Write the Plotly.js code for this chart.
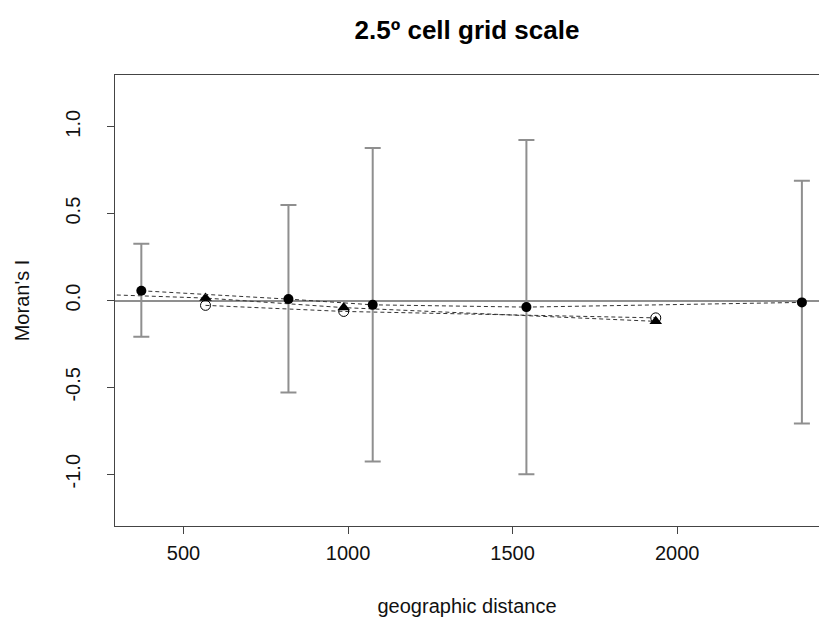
<!DOCTYPE html>
<html>
<head>
<meta charset="utf-8">
<script src="https://cdn.plot.ly/plotly-3.0.1.min.js"></script>
<style>html,body{margin:0;padding:0;background:#fff;}</style>
</head>
<body>
<div id="chart" style="width:819px;height:631px;"></div>
<script>
// Filled circles (with confidence bars)
const distFilled = [372, 819, 1075, 1542, 2379];
const moranFilled = [0.056, 0.008, -0.025, -0.038, -0.011];
const upperFilled = [0.326, 0.55, 0.878, 0.924, 0.689];
const lowerFilled = [-0.208, -0.53, -0.927, -1.0, -0.708];

// Triangles (first class lies left of the visible range)
const distTri = [170, 567, 987, 1935];
const moranTri = [0.04, 0.014, -0.041, -0.12];

// Open circles
const distOpen = [567, 987, 1935];
const moranOpen = [-0.028, -0.063, -0.10];

const xTicks = [500, 1000, 1500, 2000];
const yTicks = [-1.0, -0.5, 0.0, 0.5, 1.0];
const yTickText = ["-1.0", "-0.5", "0.0", "0.5", "1.0"];

const errPlus = upperFilled.map((u, i) => u - moranFilled[i]);
const errMinus = lowerFilled.map((l, i) => moranFilled[i] - l);

const dashStyle = {color: '#333', width: 1, dash: '4px,3px'};

const traces = [
  {
    x: distOpen, y: moranOpen, type: 'scatter', mode: 'lines+markers',
    line: dashStyle,
    marker: {symbol: 'circle-open', size: 10, color: '#000', line: {width: 1, color: '#000'}},
    hoverinfo: 'x+y'
  },
  {
    x: distTri, y: moranTri, type: 'scatter', mode: 'lines+markers',
    line: dashStyle,
    marker: {symbol: 'triangle-up', size: 11, color: '#000'},
    hoverinfo: 'x+y'
  },
  {
    x: distFilled, y: moranFilled, type: 'scatter', mode: 'lines+markers',
    line: dashStyle,
    marker: {symbol: 'circle', size: 10, color: '#000'},
    error_y: {type: 'data', symmetric: false, array: errPlus, arrayminus: errMinus,
              color: '#8f8f8f', thickness: 2, width: 8},
    hoverinfo: 'x+y'
  }
];

const fontFam = '"Liberation Sans", Arial, Helvetica, sans-serif';

const layout = {
  width: 819, height: 631,
  margin: {l: 115, r: 0, t: 75, b: 105, pad: 0},
  paper_bgcolor: '#fff', plot_bgcolor: '#fff',
  showlegend: false,
  font: {family: fontFam, size: 20, color: '#111'},
  title: {
    text: '<b>2.5º cell grid scale</b>',
    font: {family: fontFam, size: 26, color: '#000'},
    x: 0.5, xanchor: 'center', xref: 'paper',
    y: 1 - 30/631, yref: 'container', yanchor: 'middle'
  },
  xaxis: {
    range: [292, 2431],
    tickmode: 'array', tickvals: xTicks, ticktext: xTicks.map(String),
    ticks: 'outside', ticklen: 7, tickcolor: '#444', tickwidth: 1,
    showline: true, mirror: true, linecolor: '#444', linewidth: 1,
    showgrid: false, zeroline: false,
    tickfont: {family: fontFam, size: 20, color: '#111'},
    ticklabelstandoff: 2,
    title: {text: 'geographic distance', font: {family: fontFam, size: 20, color: '#111'}, standoff: 35}
  },
  yaxis: {
    range: [-1.298, 1.298],
    tickmode: 'array', tickvals: yTicks, ticktext: yTickText,
    tickangle: -90,
    ticks: 'outside', ticklen: 7, tickcolor: '#444', tickwidth: 1,
    showline: true, mirror: false, linecolor: '#444', linewidth: 1,
    showgrid: false,
    zeroline: true, zerolinecolor: '#8f8f8f', zerolinewidth: 2,
    tickfont: {family: fontFam, size: 20, color: '#111'},
    ticklabelstandoff: 19,
    title: {text: "Moran's I", font: {family: fontFam, size: 20, color: '#111'}, standoff: 27}
  }
};

Plotly.newPlot('chart', traces, layout, {displayModeBar: false, staticPlot: true});
</script>
</body>
</html>
